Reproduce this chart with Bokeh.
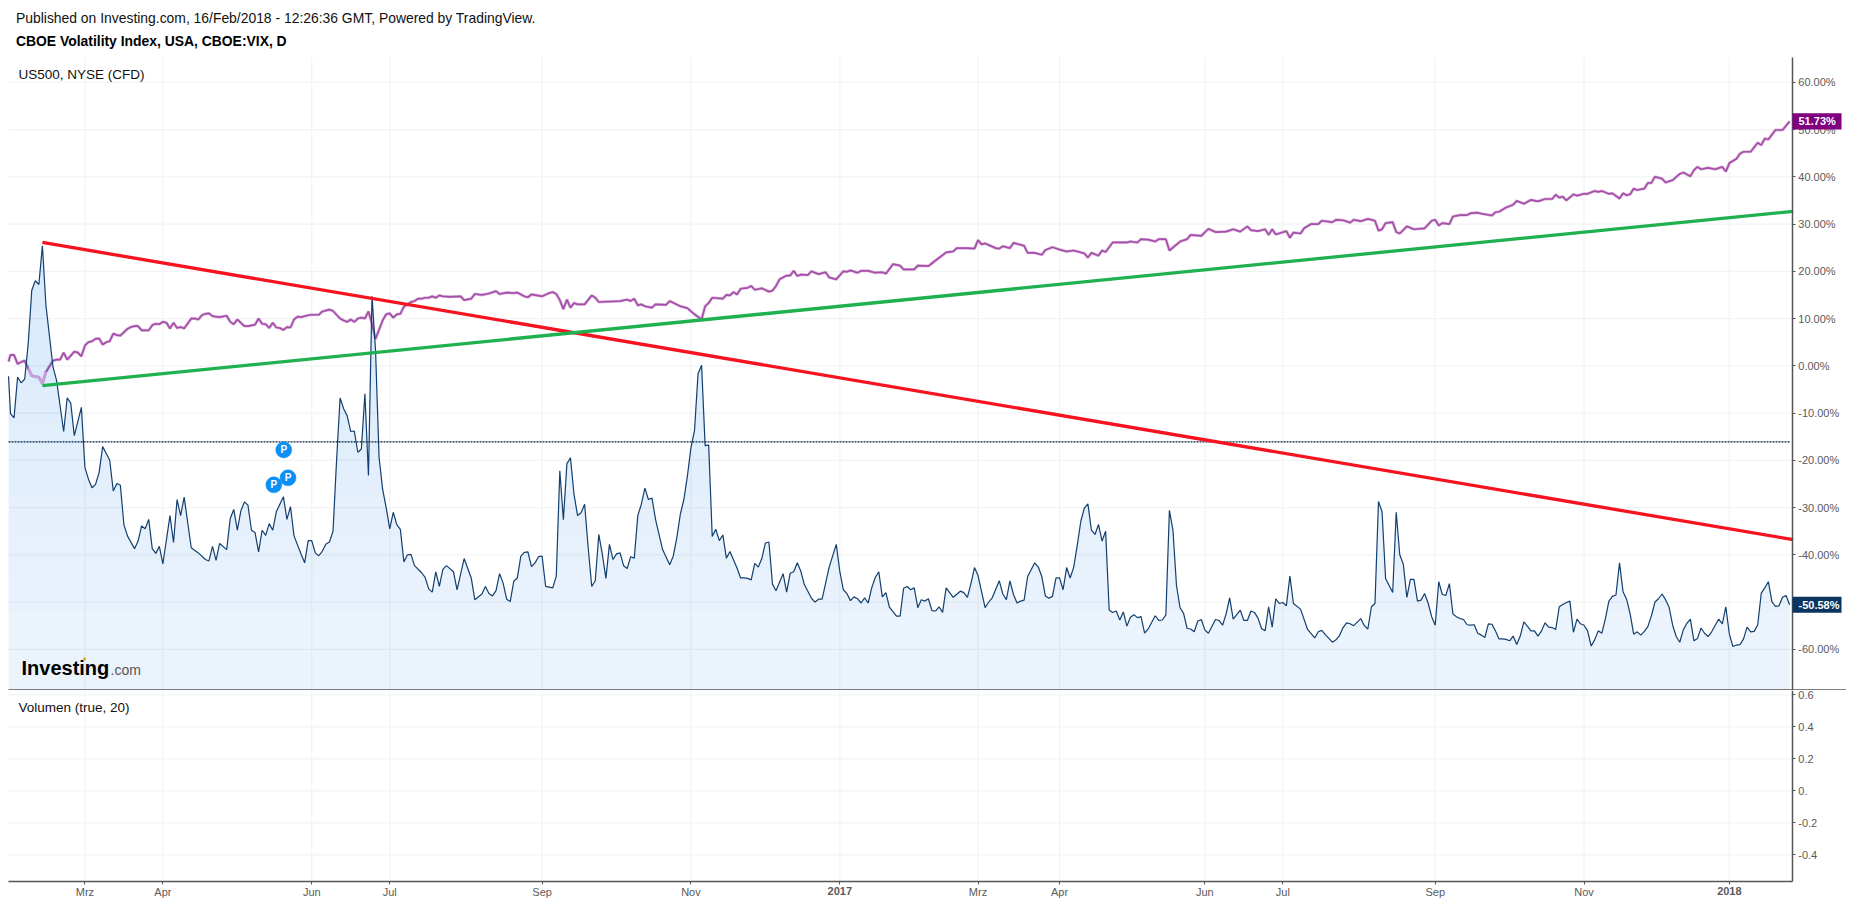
from bokeh.plotting import figure
from bokeh.layouts import column
from bokeh.models import Range1d, FixedTicker, Label, BoxAnnotation, LinearAxis
from bokeh.core.properties import value
from bokeh.embed import file_html
from bokeh.resources import INLINE
import numpy as np

# ---------- data (session number, percent change) ----------
vix_bars = [-0.56,0,1,2,3,4,5,6,7,8,9,10,12,13,15,16,17,18,20,21,
22,23,24,25,26,28,29,30,31,32,33,35,36,37,38,39,40,41,42,43,
45,46,47,48,49,51,53,55,56,57,58,59,61,62,63,64,65,66,67,68,
69,70,71,72,73,74,75,77,78,79,80,82,83,84,85,86,87,88,89,90,
91,92,93,94,95,96,97,98,99,100,101,102,103,104,105,106,107,108,109,110,
111,112,113,114,116,117,118,119,120,121,122,123,125,126,128,130,131,133,134,135,
136,137,138,139,140,141,142,143,144,145,146,147,148,149,150,151,153,154,155,156,
157,158,159,160,161,162,163,164,165,166,167,168,169,170,171,172,173,174,175,176,
177,178,179,180,181,182,184,186,187,188,189,190,191,192,193,194,195,196,197,198,
199,200,201,202,203,205,206,207,208,209,210,211,212,213,214,215,216,218,219,220,
221,222,223,224,226,227,228,229,231,233,234,235,236,237,238,239,240,241,242,243,
244,245,246,247,248,250,251,252,253,254,255,256,257,258,259,260,261,262,263,264,
266,268,269,270,271,272,273,275,276,277,279,280,281,282,283,284,285,286,287,289,
290,291,292,293,294,295,296,297,298,299,300,301,302,303,304,305,306,307,308,309,
310,311,312,313,314,315,316,317,318,319,320,321,323,324,325,326,327,328,329,330,
331,332,333,334,335,336,337,338,340,341,342,343,344,345,347,348,349,350,351,352,
353,354,355,356,357,358,359,360,361,362,364,366,368,369,370,371,373,374,375,376,
377,378,379,381,382,383,384,385,386,387,388,389,390,391,392,393,394,395,396,397,
398,399,400,401,402,403,404,405,406,407,408,409,410,411,412,413,414,415,416,417,
418,419,420,421,422,423,424,425,426,427,428,429,430,431,432,433,434,435,436,437,
438,439,440,441,442,443,444,445,446,447,448,449,450,451,452,453,454,455,456,457,
458,459,460,461,462,463,464,465,466,467,468,469,470,471,472,473,474,475,476,477,
478,479,480,482,483,484,485,486,487,488,489,490,491,492,493,494,495,496,497,498,
499,500,501,502]
vix_pct = [-2.2,-10.1,-11.0,-2.4,-3.6,-2.8,4.7,16.0,18.0,17.2,25.4,12.8,-0.3,-3.1,-13.9,-6.8,-7.9,-14.8,-8.8,-21.5,
-24.0,-25.8,-25.1,-22.6,-17.1,-20.0,-26.5,-24.9,-25.3,-33.6,-36.0,-38.7,-37.1,-33.9,-34.5,-32.5,-38.7,-39.7,-38.2,-41.9,
-31.7,-37.4,-28.3,-31.7,-27.8,-38.5,-39.6,-41.0,-41.3,-38.2,-41.2,-37.6,-38.9,-32.3,-30.4,-34.8,-30.7,-28.8,-29.5,-34.8,
-35.3,-39.4,-34.8,-35.9,-33.4,-34.8,-30.9,-27.7,-32.5,-29.8,-36.0,-39.9,-41.7,-37.0,-37.0,-39.6,-40.2,-39.2,-37.7,-37.3,
-35.0,-20.1,-6.8,-9.1,-10.6,-13.9,-13.8,-18.3,-17.6,-5.9,-23.2,14.7,3.3,-19.4,-26.1,-30.0,-34.5,-31.0,-33.6,-34.6,
-41.5,-40.0,-39.9,-42.3,-43.8,-44.8,-47.2,-47.9,-43.6,-46.7,-43.1,-42.3,-43.6,-47.4,-40.8,-44.9,-49.5,-48.3,-46.7,-48.2,
-48.7,-47.6,-44.0,-46.0,-49.4,-49.9,-45.6,-44.9,-40.3,-39.5,-39.4,-42.5,-41.7,-40.4,-40.3,-46.7,-47.0,-44.5,-22.2,-32.6,
-20.7,-19.5,-27.2,-31.7,-31.1,-29.3,-38.5,-46.7,-45.5,-35.7,-39.9,-45.0,-37.8,-41.0,-39.8,-39.6,-42.3,-42.9,-40.4,-40.7,
-31.7,-29.3,-25.9,-28.3,-28.0,-32.5,-38.9,-42.1,-40.3,-36.4,-31.4,-28.3,-23.3,-17.3,-13.7,-1.7,0.1,-16.9,-16.8,-36.1,
-34.6,-37.0,-35.8,-40.7,-39.3,-42.8,-44.9,-44.9,-45.0,-45.3,-41.8,-42.6,-40.8,-37.5,-37.3,-46.2,-47.6,-44.0,-47.9,-43.9,
-43.6,-41.7,-43.5,-46.3,-49.2,-50.0,-49.4,-49.4,-42.6,-37.8,-43.5,-47.4,-48.2,-49.7,-48.9,-49.3,-50.2,-49.1,-50.2,-47.0,
-44.8,-43.6,-48.9,-48.0,-51.1,-53.0,-53.0,-47.1,-46.7,-47.4,-47.0,-51.2,-49.5,-49.8,-49.3,-51.8,-51.9,-51.0,-52.2,-47.0,
-49.0,-47.7,-48.0,-49.0,-46.1,-42.7,-44.4,-51.2,-50.0,-49.1,-45.5,-48.3,-49.5,-45.5,-48.4,-50.2,-49.8,-49.6,-44.6,-41.7,
-42.6,-44.6,-48.7,-49.2,-48.8,-44.9,-44.9,-47.4,-42.7,-44.9,-42.6,-38.0,-32.9,-30.1,-29.2,-34.8,-35.7,-33.6,-37.1,-35.0,
-51.7,-52.2,-51.9,-53.8,-52.1,-55.1,-53.2,-52.7,-53.3,-53.1,-56.6,-55.7,-52.9,-53.9,-53.8,-52.7,-30.6,-34.8,-46.5,-51.2,
-52.4,-55.6,-55.7,-56.3,-54.0,-53.7,-55.9,-56.6,-53.7,-53.9,-54.9,-52.5,-49.1,-53.6,-51.7,-53.9,-53.9,-51.9,-52.2,-53.4,
-55.6,-56.1,-51.0,-55.3,-49.3,-50.3,-50.1,-50.8,-44.5,-50.3,-51.5,-55.8,-57.6,-56.3,-56.0,-56.9,-58.5,-58.0,-57.1,-55.4,
-54.4,-54.6,-55.0,-53.5,-55.0,-55.7,-51.0,-50.3,-28.7,-30.9,-45.0,-46.5,-48.0,-31.0,-40.0,-42.0,-49.0,-45.2,-45.2,-49.8,
-49.6,-48.2,-50.2,-53.1,-54.9,-45.7,-48.4,-48.6,-46.1,-52.5,-53.1,-53.5,-53.7,-54.8,-54.9,-54.8,-56.6,-57.0,-57.5,-54.6,
-54.7,-56.1,-57.8,-57.8,-57.9,-58.2,-57.2,-59.0,-57.2,-54.2,-55.1,-56.1,-56.1,-57.2,-56.1,-54.4,-55.3,-55.4,-55.8,-51.0,
-50.5,-50.1,-49.8,-56.4,-53.6,-54.6,-54.9,-56.1,-59.3,-58.0,-56.1,-56.6,-53.6,-49.8,-48.8,-48.5,-41.7,-47.8,-49.4,-52.5,
-56.8,-56.3,-57.0,-56.2,-55.2,-52.9,-50.0,-49.3,-48.3,-49.5,-51.1,-54.9,-57.3,-58.5,-55.9,-54.5,-53.6,-58.2,-57.7,-55.5,
-56.6,-57.3,-56.3,-53.6,-54.6,-51.0,-56.8,-59.4,-59.1,-59.0,-57.8,-55.3,-56.3,-56.2,-54.8,-48.1,-47.0,-45.7,-49.9,-50.9,
-50.8,-49.0,-48.6,-50.58]

spx_bars = [-0.56,0,1,2,3,4,5,6,7,8,9,10,12,13,14,15,16,18,19,20,
21,22,23,24,25,26,27,28,29,30,31,33,34,35,36,37,39,40,41,42,
43,44,45,46,47,48,49,51,52,53,54,55,56,57,59,61,62,63,64,66,
67,69,70,71,72,73,74,75,76,77,78,79,80,81,82,84,85,87,88,90,
91,93,94,95,96,97,98,99,100,101,102,103,105,106,107,108,109,110,111,113,
114,115,116,117,118,119,120,121,122,124,127,128,130,131,133,135,137,138,140,142,
143,145,146,147,150,152,153,154,155,156,157,158,159,160,162,164,165,166,172,174,
175,176,177,178,179,181,182,185,186,189,191,193,195,196,197,198,201,202,203,204,
205,206,208,209,210,212,214,215,216,217,219,220,221,222,223,225,226,228,230,231,
233,235,236,237,239,240,242,244,246,247,249,251,252,255,256,259,260,264,266,267,
270,272,273,274,275,278,279,280,282,283,286,287,289,291,292,294,296,298,300,303,
304,305,307,308,309,311,313,315,316,318,319,321,323,324,326,327,330,332,333,336,
338,340,343,345,347,349,350,352,354,355,356,357,360,361,362,364,365,367,369,370,
373,374,376,378,379,381,383,385,386,387,388,390,391,392,394,396,399,401,402,403,
404,406,407,409,411,412,414,415,418,419,420,422,424,425,427,429,431,433,435,436,
437,438,439,441,442,444,445,447,448,449,451,452,454,455,456,457,458,459,461,462,
463,464,466,467,469,471,472,474,475,476,477,479,481,483,484,485,487,488,489,491,
493,494,495,496,498,500,502]
spx_pct = [0.9,2.3,2.3,0.4,0.8,1.1,-0.6,-2.1,-2.3,-2.4,-3.8,-1.3,1.1,1.3,1.3,2.8,1.3,3.0,2.8,2.0,
4.3,5.0,5.2,5.7,5.8,4.5,5.0,5.2,6.8,6.5,6.4,7.8,8.2,8.4,8.4,7.5,7.5,8.6,8.9,8.8,
9.3,9.1,7.9,9.1,8.0,8.2,7.9,10.0,10.0,9.8,10.7,11.0,11.1,10.5,10.3,10.6,9.3,8.8,9.8,8.4,
8.4,8.7,10.0,8.9,8.8,8.0,9.1,8.1,8.0,7.6,8.2,8.1,9.8,10.4,10.3,10.7,10.8,10.8,11.5,11.9,
11.6,10.0,9.6,9.3,9.8,9.3,10.0,10.2,10.0,11.5,8.9,5.7,9.6,10.9,11.1,10.2,10.9,11.0,12.5,13.5,
13.7,14.2,14.2,14.4,14.4,14.7,14.4,14.9,14.7,14.6,14.7,13.9,14.2,15.2,15.0,15.3,15.8,15.2,15.5,15.4,
15.5,14.7,14.5,15.1,14.7,15.4,15.6,15.2,13.9,12.0,14.0,12.3,13.3,13.0,13.0,14.9,14.4,13.5,13.7,14.0,
13.7,14.2,12.8,13.0,12.6,12.3,13.0,12.9,13.7,12.6,12.2,10.9,9.8,12.6,13.3,14.4,14.2,15.0,14.9,15.6,
15.1,16.3,16.5,16.9,16.1,16.4,15.7,15.9,16.9,18.3,19.1,19.1,20.1,19.0,19.3,19.2,20.0,19.4,19.8,18.7,
18.3,20.0,19.9,20.2,19.7,20.1,20.1,19.7,19.8,19.5,21.5,21.2,20.4,20.4,21.2,21.1,21.7,24.0,24.2,24.9,
24.9,24.8,26.6,25.7,25.9,24.9,24.8,25.3,24.9,26.0,25.4,23.9,23.9,23.5,24.5,25.1,24.6,24.2,24.4,23.8,
22.9,23.9,23.3,24.4,24.1,26.1,26.1,26.1,26.3,26.1,26.8,26.7,26.3,26.8,26.8,24.4,26.3,26.8,27.7,27.5,
29.0,28.3,28.4,28.9,28.4,29.5,28.7,28.5,28.9,27.7,28.9,27.8,28.5,27.1,28.2,28.0,29.1,30.0,30.0,30.7,
30.4,30.9,30.8,30.3,30.9,30.6,31.1,30.7,28.6,28.9,30.2,30.4,28.3,28.0,29.5,28.9,29.1,30.7,30.9,29.7,
30.2,30.0,31.6,31.9,31.9,32.3,32.4,32.2,31.8,32.5,32.6,33.5,34.1,34.9,34.3,35.1,34.8,35.3,35.3,36.2,
35.6,35.8,35.0,36.3,36.0,36.4,36.4,37.0,36.8,37.0,36.4,36.5,35.4,36.5,36.1,36.3,37.5,37.2,37.5,38.7,
38.7,40.0,39.6,38.8,39.3,40.6,40.9,40.1,41.4,42.1,41.6,41.9,41.6,42.1,41.1,42.9,43.8,44.9,45.3,45.3,
47.2,46.7,48.1,47.9,49.9,49.9,51.73]

down_trend_bars = [9, 503]
down_trend_pct = [26.1, -36.8]
up_trend_bars = [9, 503]
up_trend_pct = [-4.2, 32.7]
level_bars = [-0.56, 502]
level_pct = [-16.1, -16.1]
pub_bars = [77.1, 78.3, 74.3]
pub_pct = [-17.8, -23.7, -25.2]

month_ticks = [21, 43, 85, 107, 150, 192, 234, 273, 296, 337, 359, 402, 444, 485]
month_labels = ["Mrz", "Apr", "Jun", "Jul", "Sep", "Nov", "", "Mrz", "Apr", "Jun", "Jul", "Sep", "Nov", ""]
year_ticks = [234, 485]
year_labels = ["2017", "2018"]
pct_ticks = [60, 50, 40, 30, 20, 10, 0, -10, -20, -30, -40, -50, -60]
pct_labels = ["60.00%", "50.00%", "40.00%", "30.00%", "20.00%", "10.00%", "0.00%", "-10.00%", "-20.00%", "-30.00%", "-40.00%", "-50.00%", "-60.00%"]
vol_ticks = [0.6, 0.4, 0.2, 0, -0.2, -0.4]
vol_labels = ["0.6", "0.4", "0.2", "0.", "-0.2", "-0.4"]

# ---------- styling ----------
FONT = "Liberation Sans"
GRID = "#F2F3F4"
AX = "#555555"
TICKTXT = "#5a5a5a"
WIDTH = 1846
X_LO, X_HI = -0.56, 502.75            # plotted sessions
X0, X1 = -2.822, 518.05               # whole canvas in session units
P1_BOTTOM, P1_TOP, P1_CANVAS_TOP = -68.72, 65.25, 77.31
P2_TOP, P2_BOTTOM, P2_CANVAS_BOTTOM = 0.627, -0.564, -0.6856

def base(height, y0, y1):
    p = figure(output_backend="svg", toolbar_location=None, x_range=Range1d(X0, X1), y_range=Range1d(y0, y1),
               x_axis_location=None, y_axis_location=None, frame_width=WIDTH, frame_height=height,
               min_border=0, background_fill_color="white", border_fill_color="white", outline_line_color=None)
    p.grid.visible = False
    return p

def style_axis(ax):
    ax.axis_line_color = AX
    ax.axis_line_width = 1.5
    ax.major_tick_line_color = AX
    ax.major_tick_in = 0
    ax.major_tick_out = 3
    ax.minor_tick_line_color = None
    ax.major_label_standoff = 3
    ax.major_label_text_font = FONT
    ax.major_label_text_font_size = "11px"
    ax.major_label_text_color = TICKTXT

def grid_lines(p, yt, bottom, top):
    n, m = len(month_ticks), len(yt)
    p.segment(month_ticks, [bottom] * n, month_ticks, [top] * n, line_color=GRID, line_width=1.2)
    p.segment([X_LO] * m, yt, [X_HI] * m, yt, line_color=GRID, line_width=1.2)

def right_axis(p, ticks, labels, bottom, top):
    ax = LinearAxis(fixed_location=X_HI, bounds=(bottom, top), ticker=FixedTicker(ticks=ticks),
                    major_label_overrides=dict(zip(ticks, labels)))
    style_axis(ax)
    p.add_layout(ax, "right")

def canvas_label(p, x, y, text, size, color="#111111", style="normal"):
    p.add_layout(Label(x=x, y=y, x_units="canvas", y_units="canvas", text=text, text_font=FONT,
                       text_font_size=size, text_color=color, text_font_style=style, text_baseline="middle"))

# ---------- main pane ----------
p1 = base(690, P1_BOTTOM, P1_CANVAS_TOP)
grid_lines(p1, pct_ticks, P1_BOTTOM, P1_TOP)

p1.line(spx_bars, spx_pct, line_color="#C48AC8", line_width=3, line_alpha=0.6)
p1.line(spx_bars, spx_pct, line_color="#A54FA8", line_width=1.7)

vx = np.array(vix_bars, float)
vy = np.array(vix_pct, float)
p1.varea(vx, np.full(len(vy), P1_BOTTOM), vy, fill_color="#1F77DC", fill_alpha=0.09)
for lev in [-52, -44, -36, -28, -20, -12, -4, 4, 12, 20]:
    p1.varea(vx, np.full(len(vy), float(lev)), np.maximum(vy, lev), fill_color="#1F77DC", fill_alpha=0.0065)

# where the index area lies over the US500 line, the line shows through it, paler
sx = np.array(spx_bars, float)
sy = np.array(spx_pct, float)
under = np.interp(sx, vx, vy) > sy
for seg in np.split(np.arange(len(sx)), np.where(np.diff(under.astype(int)) != 0)[0] + 1):
    if under[seg[0]] and len(seg) > 1:
        p1.line(sx[seg], sy[seg], line_color="#C6A0D6", line_width=2.6)

p1.line(vix_bars, vix_pct, line_color="#123F6E", line_width=1.2)
p1.line(level_bars, level_pct, line_color="#001F3F", line_width=1.2, line_dash=[2, 1])
p1.line(down_trend_bars, down_trend_pct, line_color="#F4131F", line_width=3.3)
p1.line(up_trend_bars, up_trend_pct, line_color="#1FB14F", line_width=3.3)

p1.scatter(pub_bars, pub_pct, size=16, marker="circle", fill_color="#0A90F5", line_color="#0A90F5", line_alpha=0.5)
p1.text(pub_bars, pub_pct, text=["P"] * 3, text_color="white", text_font=value(FONT), text_font_style="bold",
        text_font_size="10px", text_align="center", text_baseline="middle")

right_axis(p1, pct_ticks, pct_labels, P1_BOTTOM, P1_TOP)

# divider between the panes, running past the axis
p1.line([X_LO, X1], [P1_BOTTOM + 0.12] * 2, line_color=AX, line_width=1.5)

canvas_label(p1, 15.5, 17.7, "Published on Investing.com, 16/Feb/2018 - 12:26:36 GMT, Powered by TradingView.", "13.9px")
canvas_label(p1, 15.5, 40.7, "CBOE Volatility Index, USA, CBOE:VIX, D", "13.9px", "#000000", "bold")
canvas_label(p1, 18, 73.7, "US500, NYSE (CFD)", "13.5px")
canvas_label(p1, 21, 667.7, "Investing", "20px", "#000000", "bold")
canvas_label(p1, 110, 669.7, ".com", "14px", "#555555")
p1.add_layout(BoxAnnotation(left=82.5, right=85.5, top=657, bottom=660, left_units="canvas", right_units="canvas",
                            top_units="canvas", bottom_units="canvas", fill_color="#F5A623", fill_alpha=1, line_alpha=0))

for val, col in [(spx_pct[-1], "#800080"), (vix_pct[-1], "#0A3560")]:
    p1.add_layout(BoxAnnotation(left=1792, right=1841, top=val + 1.7, bottom=val - 1.7, left_units="canvas",
                                right_units="canvas", fill_color=col, fill_alpha=1, line_alpha=0))
    p1.add_layout(Label(x=1798, y=val, x_units="canvas", y_units="data", text=f"{val:.2f}%", text_font=FONT,
                        text_font_size="11px", text_font_style="bold", text_color="white", text_baseline="middle"))

# ---------- volume pane ----------
p2 = base(210, P2_CANVAS_BOTTOM, P2_TOP)
grid_lines(p2, vol_ticks, P2_BOTTOM, P2_TOP)
right_axis(p2, vol_ticks, vol_labels, P2_BOTTOM, P2_TOP)

xa = LinearAxis(fixed_location=P2_BOTTOM, bounds=(X_LO, X_HI), ticker=FixedTicker(ticks=month_ticks),
                major_label_overrides=dict(zip(month_ticks, month_labels)))
style_axis(xa)
xa.major_label_standoff = 2
p2.add_layout(xa, "below")
canvas_label(p2, 18, 16.7, "Volumen (true, 20)", "13.5px")
for t, lab in zip(year_ticks, year_labels):
    p2.add_layout(Label(x=t, y=P2_BOTTOM - 0.0625, x_units="data", y_units="data", text=lab, text_font=FONT,
                        text_font_size="11px", text_font_style="bold", text_color=TICKTXT, text_align="center",
                        text_baseline="middle"))

page = column(p1, p2, spacing=0)
open("out.html", "w").write(file_html(page, INLINE))
